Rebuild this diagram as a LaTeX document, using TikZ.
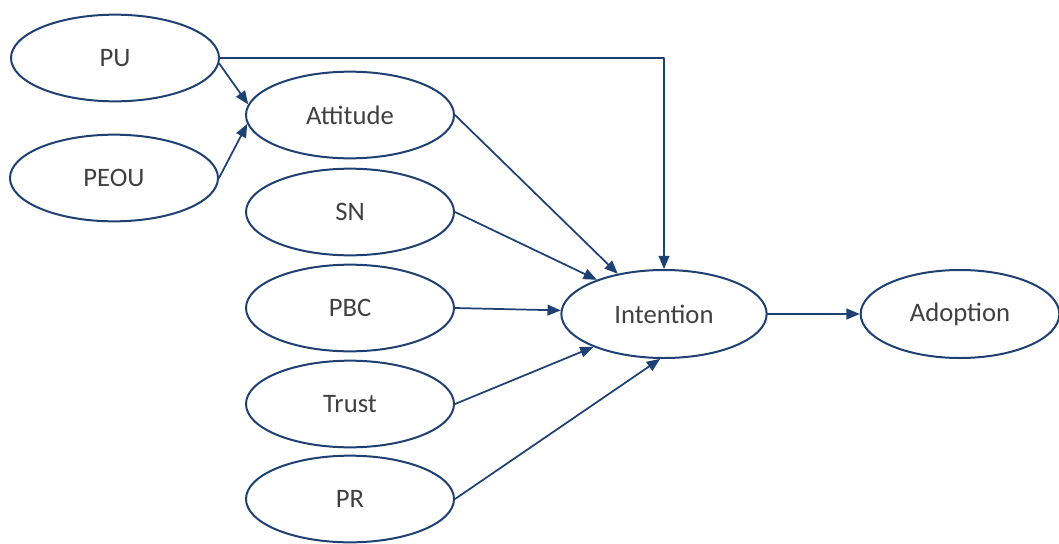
\documentclass[tikz,border=0pt]{standalone}
\usepackage{fontspec}
\setmainfont{Carlito}
\usetikzlibrary{arrows,shapes.geometric}
\definecolor{navy}{RGB}{31,64,114}
\definecolor{txtgray}{RGB}{64,64,64}
\tikzset{
  var/.style={ellipse,draw=navy,line width=1.5pt,minimum width=156pt,minimum height=65pt,
    inner sep=0pt,text=txtgray,font=\fontsize{20}{24}\selectfont},
  link/.style={->,draw=navy,line width=1.3pt}
}
\begin{document}
\begin{tikzpicture}[line cap=round,line join=round,>=triangle 45,x=0.75pt,y=-0.75pt]
\useasboundingbox (0,0) rectangle (1059,543);
\node[var] (pu) at (115,58) {PU};
\node[var] (peou) at (114,178) {PEOU};
\node[var] (att) at (350,115) {Attitude};
\node[var] (sn) at (350,212) {SN};
\node[var] (pbc) at (350,308) {PBC};
\node[var] (trust) at (350,404) {Trust};
\node[var] (pr) at (350,499) {PR};
\node[var,minimum width=154pt,minimum height=66pt] (int) at (664,314) {Intention};
\node[var,minimum width=149pt,minimum height=66pt] (adopt) at (960,314) {Adoption};
\draw[link] (pu.-3) -- (att.174);
\draw[link] (peou.east) -- (att.185);
\draw[link] (pu.east) -| (int.north);
\draw[link] (att.east) -- (int.139);
\draw[link] (sn.east) -- (int.153);
\draw[link] (pbc.east) -- (int.178);
\draw[link] (trust.east) -- (int.205);
\draw[link] (pr.east) -- (int.265);
\draw[link] (int.east) -- (adopt.west);
\end{tikzpicture}
\end{document}
